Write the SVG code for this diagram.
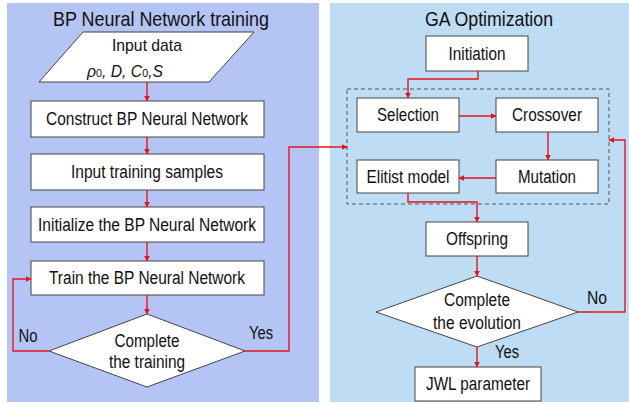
<svg xmlns="http://www.w3.org/2000/svg" width="629" height="404" viewBox="0 0 629 404">
  <style>
    text { font-family: "Liberation Sans", Arial, sans-serif; fill: #111; text-anchor: middle; }
    .title { font-size: 21px; }
    .lbl { font-size: 18px; }
    .box { fill: #fff; stroke: #444; stroke-width: 1; }
    .link { fill: none; stroke: #e3141e; stroke-width: 1.4; }
    .dash { fill: none; stroke: #555; stroke-width: 1; stroke-dasharray: 4 3; }
  </style>
  <defs>
    <marker id="arr" viewBox="0 0 10 10" refX="9" refY="5" markerWidth="6" markerHeight="6" orient="auto" markerUnits="userSpaceOnUse">
      <path d="M0,0 L10,5 L0,10 z" fill="#e3141e"/>
    </marker>
  </defs>

  <rect width="629" height="404" fill="#fff"/>
  <!-- panels -->
  <rect id="panel-bp" x="7" y="3" width="312" height="399" fill="#b4c4f4"/>
  <rect id="panel-ga" x="330" y="3" width="299" height="399" fill="#bfdcf5"/>
  <text class="title" x="161" y="26" textLength="216" lengthAdjust="spacingAndGlyphs">BP Neural Network training</text>
  <text class="title" x="489" y="26" textLength="128" lengthAdjust="spacingAndGlyphs">GA Optimization</text>

  <!-- BP nodes -->
  <g id="input-data">
    <polygon class="box" points="83,32 254,32 209,82 39,82"/>
    <text x="147" y="51" font-size="17" textLength="70" lengthAdjust="spacingAndGlyphs">Input data</text>
    <text x="125" y="77" font-size="16" font-style="italic" textLength="76" lengthAdjust="spacingAndGlyphs">ρ<tspan font-size="11" font-style="normal">0</tspan>, D, C<tspan font-size="11" font-style="normal">0</tspan>,S</text>
  </g>
  <g id="construct">
    <rect class="box" x="31" y="101" width="233" height="36"/>
    <text class="lbl" x="147" y="125" textLength="202" lengthAdjust="spacingAndGlyphs">Construct BP Neural Network</text>
  </g>
  <g id="samples">
    <rect class="box" x="31" y="154" width="233" height="36"/>
    <text class="lbl" x="147" y="178" textLength="152" lengthAdjust="spacingAndGlyphs">Input training samples</text>
  </g>
  <g id="initialize">
    <rect class="box" x="31" y="207" width="233" height="35"/>
    <text class="lbl" x="147" y="231" textLength="218" lengthAdjust="spacingAndGlyphs">Initialize the BP Neural Network</text>
  </g>
  <g id="train">
    <rect class="box" x="31" y="261" width="233" height="34"/>
    <text class="lbl" x="147" y="284" textLength="196" lengthAdjust="spacingAndGlyphs">Train the BP Neural Network</text>
  </g>
  <g id="complete-training">
    <polygon class="box" points="147,314 245,351 147,387 49,351"/>
    <text class="lbl" x="147" y="347" textLength="65" lengthAdjust="spacingAndGlyphs">Complete</text>
    <text class="lbl" x="147" y="368" textLength="76" lengthAdjust="spacingAndGlyphs">the training</text>
  </g>

  <!-- GA nodes -->
  <g id="initiation">
    <rect class="box" x="426" y="36" width="102" height="35"/>
    <text class="lbl" x="477" y="60" textLength="57" lengthAdjust="spacingAndGlyphs">Initiation</text>
  </g>
  <g id="loop-frame">
    <rect class="dash" x="347" y="89" width="262" height="115"/>
  </g>
  <g id="selection">
    <rect class="box" x="357" y="98" width="102" height="34"/>
    <text class="lbl" x="408" y="121" textLength="62" lengthAdjust="spacingAndGlyphs">Selection</text>
  </g>
  <g id="crossover">
    <rect class="box" x="496" y="98" width="102" height="34"/>
    <text class="lbl" x="547" y="121" textLength="70" lengthAdjust="spacingAndGlyphs">Crossover</text>
  </g>
  <g id="mutation">
    <rect class="box" x="496" y="160" width="102" height="33"/>
    <text class="lbl" x="547" y="183" textLength="58" lengthAdjust="spacingAndGlyphs">Mutation</text>
  </g>
  <g id="elitist">
    <rect class="box" x="357" y="160" width="102" height="33"/>
    <text class="lbl" x="408" y="183" textLength="83" lengthAdjust="spacingAndGlyphs">Elitist model</text>
  </g>
  <g id="offspring">
    <rect class="box" x="426" y="222" width="102" height="34"/>
    <text class="lbl" x="477" y="245" textLength="62" lengthAdjust="spacingAndGlyphs">Offspring</text>
  </g>
  <g id="complete-evolution">
    <polygon class="box" points="477,276 578,312 477,347 376,312"/>
    <text class="lbl" x="477" y="306" textLength="66" lengthAdjust="spacingAndGlyphs">Complete</text>
    <text class="lbl" x="477" y="329" textLength="88" lengthAdjust="spacingAndGlyphs">the evolution</text>
  </g>
  <g id="jwl">
    <rect class="box" x="415" y="367" width="126" height="34"/>
    <text class="lbl" x="478" y="390" textLength="104" lengthAdjust="spacingAndGlyphs">JWL parameter</text>
  </g>

  <!-- connectors -->
  <g id="connectors">
    <path class="link" d="M147,82 V101" marker-end="url(#arr)"/>
    <path class="link" d="M147,137 V154" marker-end="url(#arr)"/>
    <path class="link" d="M147,190 V207" marker-end="url(#arr)"/>
    <path class="link" d="M147,242 V261" marker-end="url(#arr)"/>
    <path class="link" d="M147,295 V314" marker-end="url(#arr)"/>
    <path class="link" d="M49,351 H13 V279 H31" marker-end="url(#arr)"/>
    <path class="link" d="M245,351 H289 V147 H347" marker-end="url(#arr)"/>
    <path class="link" d="M478,71 V79 H408 V98" marker-end="url(#arr)"/>
    <path class="link" d="M459,116 H496" marker-end="url(#arr)"/>
    <path class="link" d="M548,132 V160" marker-end="url(#arr)"/>
    <path class="link" d="M496,178 H459" marker-end="url(#arr)"/>
    <path class="link" d="M408,193 V202 H477 V222" marker-end="url(#arr)"/>
    <path class="link" d="M477,256 V276" marker-end="url(#arr)"/>
    <path class="link" d="M578,312 H625 V140 H609" marker-end="url(#arr)"/>
    <path class="link" d="M477,347 V367" marker-end="url(#arr)"/>
  </g>
  <g id="edge-labels">
    <text class="lbl" x="28" y="342" textLength="19" lengthAdjust="spacingAndGlyphs">No</text>
    <text class="lbl" x="261" y="339" textLength="24" lengthAdjust="spacingAndGlyphs">Yes</text>
    <text class="lbl" x="597" y="304" textLength="20" lengthAdjust="spacingAndGlyphs">No</text>
    <text class="lbl" x="507" y="358" textLength="24" lengthAdjust="spacingAndGlyphs">Yes</text>
  </g>
</svg>
